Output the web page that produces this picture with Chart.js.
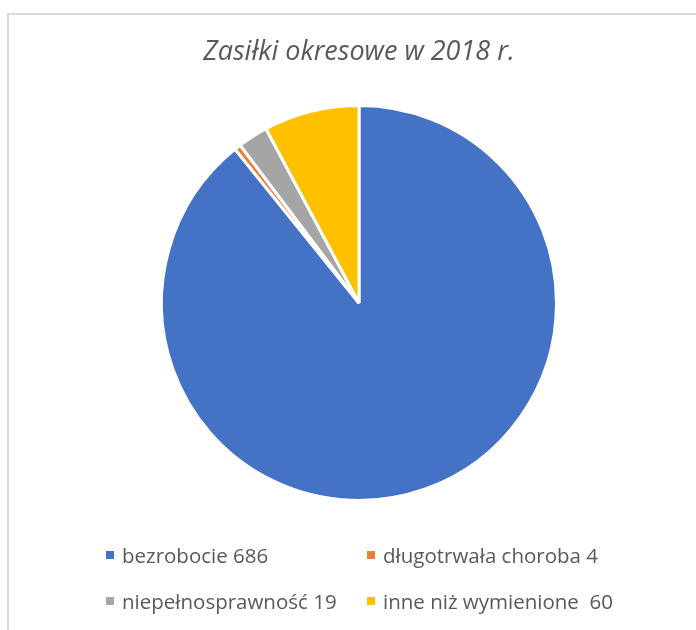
<!DOCTYPE html>
<html>
<head>
<meta charset="utf-8">
<script src="https://cdn.jsdelivr.net/npm/chart.js@4"></script>
<style>
    body { margin: 0; background: #fff; font-family: "Open Sans", sans-serif; }
    #frame {
        position: absolute; left: 7px; top: 13px; width: 800px; height: 700px;
        border-left: 2px solid #d9d9d9; border-top: 2px solid #d9d9d9;
    }
    #chart { position: absolute; left: 0; top: 0; }
    .legend-item {
        position: absolute; font-size: 20.5px; color: #595959;
        display: flex; align-items: center; white-space: pre; line-height: 24px;
    }
    .legend-item i { display: inline-block; width: 8px; height: 8px; margin-right: 8px; }
</style>
</head>
<body>
<div id="frame"></div>
<canvas id="chart" width="696" height="630"></canvas>
<div id="legend"></div>
<script>
const labels = ["bezrobocie", "długotrwała choroba", "niepełnosprawność", "inne niż wymienione "];
const values = [686, 4, 19, 60];
const colors = ["#4472C4", "#ED7D31", "#A5A5A5", "#FFC000"];

// Excel-style 2x2 legend grid
const legendCols = [106, 367];
const legendRows = [555, 601];
const legendEl = document.getElementById("legend");
labels.forEach((label, i) => {
    const item = document.createElement("div");
    item.className = "legend-item";
    item.style.left = legendCols[i % 2] + "px";
    item.style.top = legendRows[Math.floor(i / 2)] - 12 + "px";
    item.innerHTML = `<i style="background:${colors[i]}"></i>`;
    item.append(label + " " + values[i]);
    legendEl.append(item);
});

new Chart(document.getElementById("chart"), {
    type: "pie",
    data: {
        labels: labels,
        datasets: [{
            data: values,
            backgroundColor: colors,
            borderColor: "#ffffff",
            borderWidth: 3,
        }],
    },
    options: {
        responsive: false,
        animation: false,
        layout: { padding: { left: 160, right: 138, top: 0, bottom: 128 } },
        plugins: {
            legend: { display: false },
            tooltip: { enabled: false },
            title: {
                display: true,
                text: "Zasiłki okresowe w 2018 r.",
                color: "#595959",
                font: { family: "Open Sans", size: 27, style: "italic", weight: "normal" },
                padding: { top: 36, bottom: 35.6 },
            },
        },
    },
});
</script>
</body>
</html>
